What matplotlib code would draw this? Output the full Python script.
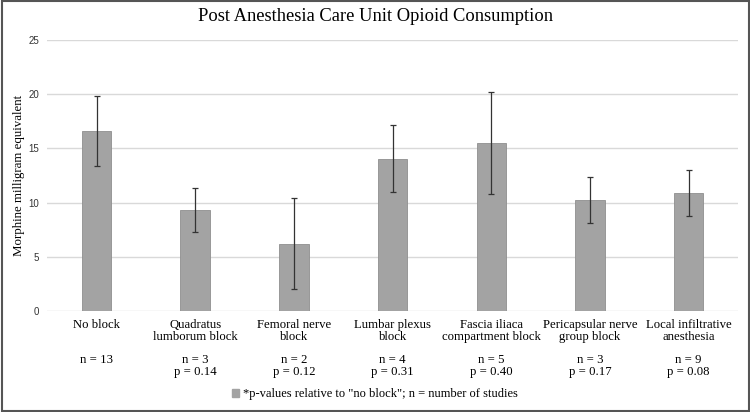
import matplotlib
matplotlib.use('Agg')

import matplotlib.pyplot as plt
from matplotlib.patches import Rectangle, Patch
import numpy as np

# data
categories = ['No block', 'Quadratus\nlumborum block', 'Femoral nerve\nblock',
              'Lumbar plexus\nblock', 'Fascia iliaca\ncompartment block',
              'Pericapsular nerve\ngroup block', 'Local infiltrative\nanesthesia']
means = [16.6, 9.3, 6.2, 14.05, 15.5, 10.2, 10.9]
errors = [3.25, 2.05, 4.2, 3.07, 4.7, 2.12, 2.12]
n_studies = [13, 3, 2, 4, 5, 3, 9]
p_values = [None, '0.14', '0.12', '0.31', '0.40', '0.17', '0.08']
yticks = [0, 5, 10, 15, 20, 25]

serif = ['Liberation Serif', 'DejaVu Serif']
bar_color = '#a3a3a3'

fig = plt.figure(figsize=(7.5, 4.12), dpi=100)
ax = fig.add_axes([0.063, 0.245, 0.921, 0.658])

x = np.arange(len(categories))
ax.bar(x, means, width=0.3, color=bar_color, edgecolor='#8f8f8f', linewidth=0.6, zorder=2)
ax.errorbar(x, means, yerr=errors, fmt='none', ecolor='#333333', elinewidth=0.9,
            capsize=2.5, capthick=0.9, zorder=3)

ax.set_xlim(-0.5, len(categories) - 0.5)
ax.set_ylim(0, 25)
ax.set_yticks(yticks)
ax.set_yticklabels([str(t) for t in yticks], fontsize=7, color='#333333',
                   family=['Liberation Sans', 'DejaVu Sans'])
ax.yaxis.grid(True, color='#d9d9d9', linewidth=1.0, zorder=0)
ax.set_axisbelow(True)
ax.tick_params(axis='both', length=0, pad=6)
for s in ax.spines.values():
    s.set_visible(False)

ax.set_xticks(x)
ax.set_xticklabels(categories, fontsize=9.2, family=serif, linespacing=0.95)
ax.tick_params(axis='x', pad=6)

ax.set_ylabel('Morphine milligram equivalent', fontsize=9.3, family=serif, labelpad=2)

# n and p value rows under the category labels
for i in range(len(categories)):
    txt = 'n = %d' % n_studies[i]
    if p_values[i] is not None:
        txt += '\np = ' + p_values[i]
    ax.text(x[i], -4.0, txt, ha='center', va='top', fontsize=9.2, family=serif,
            linespacing=0.95, transform=ax.transData, clip_on=False)

fig.text(0.5, 0.959, 'Post Anesthesia Care Unit Opioid Consumption', ha='center',
         va='center', fontsize=13.3, family=serif)

leg = fig.legend(handles=[Patch(facecolor=bar_color, edgecolor=bar_color)],
                 labels=['*p-values relative to "no block"; n = number of studies'],
                 loc='center', bbox_to_anchor=(0.5, 0.043), frameon=False,
                 handlelength=0.6, handleheight=0.6, handletextpad=0.3,
                 prop={'family': serif, 'size': 9})

# dark frame round the whole picture
fig.patches.append(Rectangle((0.002, 0.003), 0.996, 0.994, transform=fig.transFigure,
                             fill=False, edgecolor='#555555', linewidth=1.5))

plt.savefig('out.png', dpi=100)
